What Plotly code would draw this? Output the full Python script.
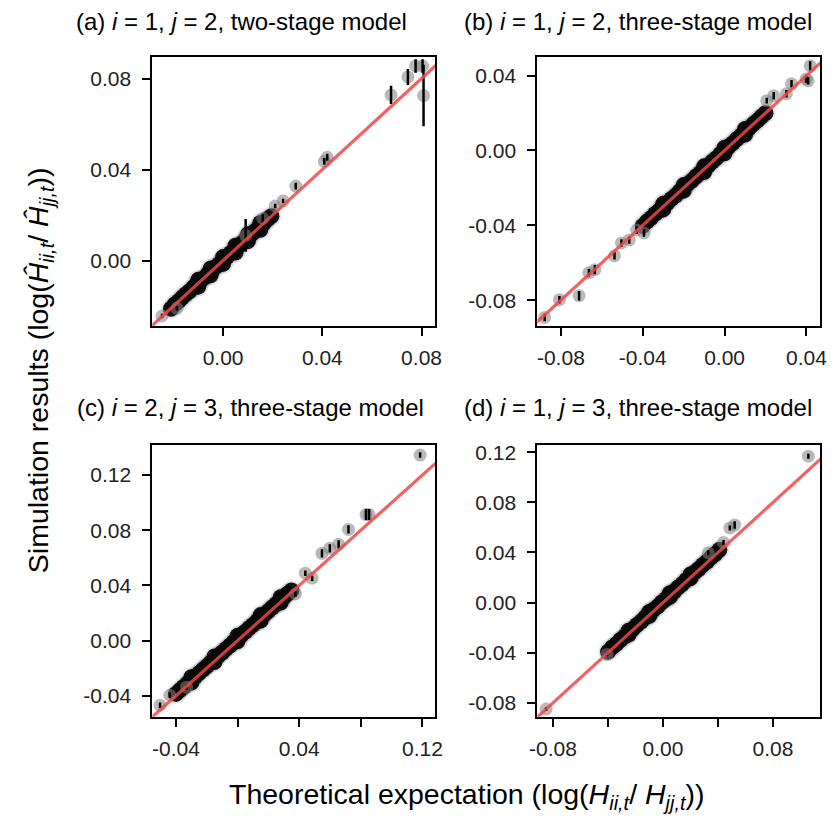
import plotly.graph_objects as go

# ---------------- data ----------------
# reference line y = x
ref_x = [-0.2, 0.2]
ref_y = [-0.2, 0.2]

# panel (a)
band_a_x = [-0.021, -0.0195, -0.018, -0.0165, -0.015, -0.0135, -0.012, -0.0105, -0.009, -0.0075,
            -0.006, -0.0045, -0.003, -0.0015, 0.0, 0.0015, 0.003, 0.0045, 0.006, 0.0075,
            0.009, 0.0105, 0.012, 0.0135, 0.015, 0.0165, 0.018, 0.0195,
            -0.010, -0.010, -0.005, -0.005, 0.000, 0.000, 0.005, 0.005, 0.010, 0.010, 0.015, 0.015]
band_a_y = [-0.0212, -0.0193, -0.0180, -0.0163, -0.0148, -0.0135, -0.0118, -0.0105, -0.0088, -0.0075,
            -0.0058, -0.0045, -0.0028, -0.0015, 0.0002, 0.0015, 0.0032, 0.0045, 0.0062, 0.0075,
            0.0092, 0.0105, 0.0122, 0.0135, 0.0152, 0.0165, 0.0182, 0.0195,
            -0.0085, -0.0115, -0.0035, -0.0065, 0.0015, -0.0015, 0.0065, 0.0035, 0.0115, 0.0085, 0.0165, 0.0135]
out_a_x = [-0.0246, -0.0186, 0.0210, 0.0242, 0.0293, 0.0408, 0.0420, 0.0677, 0.0745, 0.0776, 0.0804, 0.0808, 0.0091, 0.0160]
out_a_y = [-0.0244, -0.0210, 0.0240, 0.0262, 0.0327, 0.0436, 0.0454, 0.0728, 0.0807, 0.0855, 0.0855, 0.0725, 0.0110, 0.0185]
out_a_e = [0.001, 0.001, 0.001, 0.001, 0.0015, 0.0015, 0.0015, 0.004, 0.0035, 0.003, 0.003, 0.0135, 0.0072, 0.002]

# panel (b)
band_b_x = [-0.040, -0.038, -0.036, -0.034, -0.032, -0.030, -0.028, -0.026, -0.024, -0.022,
            -0.020, -0.018, -0.016, -0.014, -0.012, -0.010, -0.008, -0.006, -0.004, -0.002,
            0.000, 0.002, 0.004, 0.006, 0.008, 0.010, 0.012, 0.014, 0.016, 0.018, 0.020,
            -0.030, -0.030, -0.020, -0.020, -0.010, -0.010, 0.000, 0.000, 0.010, 0.010]
band_b_y = [-0.0403, -0.0380, -0.0362, -0.0339, -0.0321, -0.0299, -0.0281, -0.0259, -0.0241, -0.0219,
            -0.0201, -0.0179, -0.0161, -0.0139, -0.0121, -0.0099, -0.0081, -0.0059, -0.0041, -0.0019,
            -0.0001, 0.0021, 0.0039, 0.0061, 0.0079, 0.0101, 0.0119, 0.0141, 0.0159, 0.0181, 0.0199,
            -0.0285, -0.0315, -0.0185, -0.0215, -0.0085, -0.0115, 0.0015, -0.0015, 0.0115, 0.0085]
out_b_x = [-0.0879, -0.0807, -0.0711, -0.0663, -0.0634, -0.0538, -0.0504, -0.0466, -0.0430, -0.0394,
           0.0206, 0.0240, 0.0302, 0.0327, 0.0398, 0.0408, 0.0418]
out_b_y = [-0.0892, -0.0797, -0.0776, -0.0653, -0.0637, -0.0563, -0.0494, -0.0478, -0.0425, -0.0441,
           0.0266, 0.0292, 0.0303, 0.0356, 0.0382, 0.0372, 0.0452]
out_b_e = [0.002, 0.002, 0.0025, 0.002, 0.0025, 0.002, 0.002, 0.002, 0.002, 0.002,
           0.0015, 0.002, 0.002, 0.002, 0.002, 0.002, 0.0025]

# panel (c)
band_c_x = [-0.0400, -0.0375, -0.0350, -0.0325, -0.0300, -0.0275, -0.0250, -0.0225, -0.0200, -0.0175,
            -0.0150, -0.0125, -0.0100, -0.0075, -0.0050, -0.0025, 0.0000, 0.0025, 0.0050, 0.0075,
            0.0100, 0.0125, 0.0150, 0.0175, 0.0200, 0.0225, 0.0250, 0.0275, 0.0300, 0.0325, 0.0350,
            -0.030, -0.030, -0.015, -0.015, 0.000, 0.000, 0.015, 0.015, 0.028, 0.028]
band_c_y = [-0.0386, -0.0360, -0.0336, -0.0310, -0.0286, -0.0260, -0.0236, -0.0210, -0.0186, -0.0160,
            -0.0136, -0.0110, -0.0086, -0.0060, -0.0036, -0.0010, 0.0014, 0.0040, 0.0064, 0.0090,
            0.0114, 0.0140, 0.0164, 0.0190, 0.0214, 0.0240, 0.0264, 0.0290, 0.0314, 0.0340, 0.0364,
            -0.0265, -0.0305, -0.0115, -0.0155, 0.0035, -0.0005, 0.0185, 0.0145, 0.0315, 0.0275]
out_c_x = [-0.0503, -0.0440, -0.0331, 0.0376, 0.0440, 0.0484, 0.0548, 0.0599, 0.0656, 0.0720, 0.0834, 0.0854, 0.1185]
out_c_y = [-0.0468, -0.0396, -0.0338, 0.0338, 0.0489, 0.0453, 0.0633, 0.0669, 0.0698, 0.0806, 0.0914, 0.0914, 0.1345]
out_c_e = [0.002, 0.002, 0.002, 0.002, 0.002, 0.002, 0.003, 0.003, 0.003, 0.003, 0.004, 0.004, 0.002]

# panel (d)
band_d_x = [-0.040, -0.037, -0.034, -0.031, -0.028, -0.025, -0.022, -0.019, -0.016, -0.013,
            -0.010, -0.007, -0.004, -0.001, 0.002, 0.005, 0.008, 0.011, 0.014, 0.017,
            0.020, 0.023, 0.026, 0.029, 0.032, 0.035, 0.038, 0.041,
            -0.025, -0.025, -0.010, -0.010, 0.005, 0.005, 0.020, 0.020]
band_d_y = [-0.0393, -0.0358, -0.0332, -0.0299, -0.0272, -0.0239, -0.0212, -0.0179, -0.0152, -0.0119,
            -0.0092, -0.0059, -0.0032, 0.0001, 0.0028, 0.0061, 0.0088, 0.0121, 0.0148, 0.0181,
            0.0208, 0.0241, 0.0268, 0.0301, 0.0328, 0.0361, 0.0388, 0.0421,
            -0.0225, -0.0255, -0.0075, -0.0105, 0.0075, 0.0045, 0.0225, 0.0195]
out_d_x = [-0.0850, -0.0407, 0.0329, 0.0440, 0.0486, 0.0521, 0.1057]
out_d_y = [-0.0851, -0.0414, 0.0398, 0.0480, 0.0596, 0.0620, 0.1169]
out_d_e = [0.0015, 0.0015, 0.002, 0.002, 0.002, 0.003, 0.002]

# axis ranges and ticks
range_a_x = [-0.0285, 0.0855]; range_a_y = [-0.0288, 0.0896]
range_b_x = [-0.0915, 0.0467]; range_b_y = [-0.0938, 0.0501]
range_c_x = [-0.0553, 0.1283]; range_c_y = [-0.0551, 0.1416]
range_d_x = [-0.0914, 0.1143]; range_d_y = [-0.0911, 0.1256]

ticks_a_x = [0.0, 0.04, 0.08]; labels_a_x = ["0.00", "0.04", "0.08"]
ticks_a_y = [0.0, 0.04, 0.08]; labels_a_y = ["0.00", "0.04", "0.08"]
ticks_b_x = [-0.08, -0.04, 0.0, 0.04]; labels_b_x = ["-0.08", "-0.04", "0.00", "0.04"]
ticks_b_y = [-0.08, -0.04, 0.0, 0.04]; labels_b_y = ["-0.08", "-0.04", "0.00", "0.04"]
ticks_c_x = [-0.04, 0.0, 0.04, 0.08, 0.12]; labels_c_x = ["-0.04", "", "0.04", "", "0.12"]
ticks_c_y = [-0.04, 0.0, 0.04, 0.08, 0.12]; labels_c_y = ["-0.04", "0.00", "0.04", "0.08", "0.12"]
ticks_d_x = [-0.08, -0.04, 0.0, 0.04, 0.08]; labels_d_x = ["-0.08", "", "0.00", "", "0.08"]
ticks_d_y = [-0.08, -0.04, 0.0, 0.04, 0.08, 0.12]; labels_d_y = ["-0.08", "-0.04", "0.00", "0.04", "0.08", "0.12"]

titles = [
    "(a) <i>i</i> = 1, <i>j</i> = 2, two-stage model",
    "(b) <i>i</i> = 1, <i>j</i> = 2, three-stage model",
    "(c) <i>i</i> = 2, <i>j</i> = 3, three-stage model",
    "(d) <i>i</i> = 1, <i>j</i> = 3, three-stage model",
]
y_title = "Simulation results (log(<i>Ĥ</i><sub><i>ii,t</i></sub>/ <i>Ĥ</i><sub><i>jj,t</i></sub>))"
x_title = "Theoretical expectation (log(<i>H</i><sub><i>ii,t</i></sub>/ <i>H</i><sub><i>jj,t</i></sub>))"

# ---------------- figure ----------------
W, H = 837, 821
FONT = "Liberation Sans, Arial, sans-serif"

panels = [
    dict(bx=band_a_x, by=band_a_y, ox=out_a_x, oy=out_a_y, oe=out_a_e, rx=range_a_x, ry=range_a_y,
         tx=ticks_a_x, lx=labels_a_x, ty=ticks_a_y, ly=labels_a_y, px=(147, 435), py=(52, 323)),
    dict(bx=band_b_x, by=band_b_y, ox=out_b_x, oy=out_b_y, oe=out_b_e, rx=range_b_x, ry=range_b_y,
         tx=ticks_b_x, lx=labels_b_x, ty=ticks_b_y, ly=labels_b_y, px=(539, 827), py=(52, 323)),
    dict(bx=band_c_x, by=band_c_y, ox=out_c_x, oy=out_c_y, oe=out_c_e, rx=range_c_x, ry=range_c_y,
         tx=ticks_c_x, lx=labels_c_x, ty=ticks_c_y, ly=labels_c_y, px=(147, 435), py=(443, 716)),
    dict(bx=band_d_x, by=band_d_y, ox=out_d_x, oy=out_d_y, oe=out_d_e, rx=range_d_x, ry=range_d_y,
         tx=ticks_d_x, lx=labels_d_x, ty=ticks_d_y, ly=labels_d_y, px=(539, 827), py=(443, 716)),
]

fig = go.Figure()
layout = dict(width=W, height=H, margin=dict(l=0, r=0, t=0, b=0),
              paper_bgcolor="white", plot_bgcolor="white", showlegend=False,
              font=dict(family=FONT, color="black"))

for k, p in enumerate(panels, start=1):
    xa = "x" if k == 1 else f"x{k}"
    ya = "y" if k == 1 else f"y{k}"
    # soft gray fringe of dense cloud
    fig.add_trace(go.Scatter(x=p["bx"], y=p["by"], mode="markers", xaxis=xa, yaxis=ya,
                             marker=dict(size=20, color="rgba(120,120,120,0.18)", line=dict(width=0)),
                             hoverinfo="skip"))
    # dense black cloud
    fig.add_trace(go.Scatter(x=p["bx"], y=p["by"], mode="markers", xaxis=xa, yaxis=ya,
                             marker=dict(size=16, color="rgba(8,8,8,0.95)", line=dict(width=0)),
                             hoverinfo="skip"))
    # sparse gray points
    fig.add_trace(go.Scatter(x=p["ox"], y=p["oy"], mode="markers", xaxis=xa, yaxis=ya,
                             marker=dict(size=13, color="rgba(128,128,128,0.55)", line=dict(width=0)),
                             hoverinfo="skip"))
    # error bars on top
    fig.add_trace(go.Scatter(x=p["ox"], y=p["oy"], mode="markers", xaxis=xa, yaxis=ya,
                             marker=dict(size=1, color="rgba(0,0,0,0)"),
                             error_y=dict(type="data", array=p["oe"], visible=True,
                                          color="black", thickness=2.5, width=0),
                             hoverinfo="skip"))
    # 1:1 line
    fig.add_trace(go.Scatter(x=ref_x, y=ref_y, mode="lines", xaxis=xa, yaxis=ya,
                             line=dict(color="rgba(238,70,70,0.85)", width=3.2),
                             hoverinfo="skip"))

    axkey_x = "xaxis" if k == 1 else f"xaxis{k}"
    axkey_y = "yaxis" if k == 1 else f"yaxis{k}"
    common = dict(showgrid=False, zeroline=False, showline=True, linecolor="black", linewidth=2,
                  mirror=True, ticks="outside", ticklen=8, tickwidth=2, tickcolor="black",
                  tickfont=dict(size=21, family=FONT, color="#222"), tickmode="array")
    layout[axkey_x] = dict(common, domain=[p["px"][0] / W, p["px"][1] / W], range=p["rx"],
                           tickvals=p["tx"], ticktext=p["lx"], anchor=ya, ticklabelstandoff=4)
    layout[axkey_y] = dict(common, domain=[1 - p["py"][1] / H, 1 - p["py"][0] / H], range=p["ry"],
                           tickvals=p["ty"], ticktext=p["ly"], anchor=xa, ticklabelstandoff=7)

title_pos = [(238, 17), (641, 17), (247, 405), (641, 405)]
annotations = []
for t, (cx, cy) in zip(titles, title_pos):
    annotations.append(dict(text=t, x=cx / W, y=1 - cy / H, xref="paper", yref="paper",
                            showarrow=False, xanchor="center", yanchor="middle",
                            font=dict(size=24, family=FONT, color="black")))
annotations.append(dict(text=y_title, x=32 / W, y=1 - 367 / H, xref="paper", yref="paper",
                        showarrow=False, textangle=-90, xanchor="center", yanchor="middle",
                        font=dict(size=28.5, family=FONT, color="black")))
annotations.append(dict(text=x_title, x=467 / W, y=1 - 796 / H, xref="paper", yref="paper",
                        showarrow=False, xanchor="center", yanchor="middle",
                        font=dict(size=28.5, family=FONT, color="black")))
layout["annotations"] = annotations

fig.update_layout(**layout)
fig.write_html("out.html", config={"displayModeBar": False},
               post_script="document.body.style.margin='0px';document.body.style.overflow='hidden';")
